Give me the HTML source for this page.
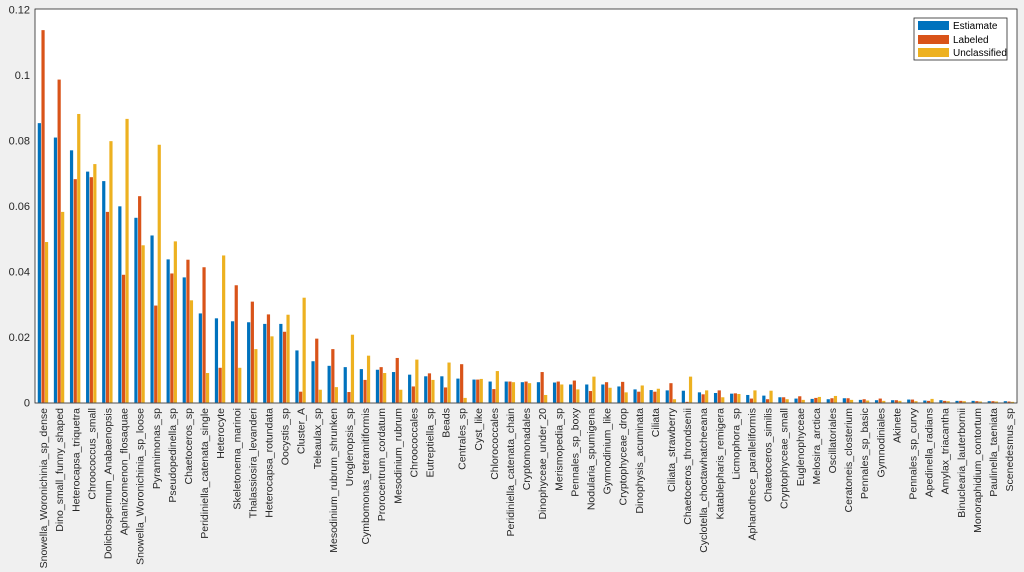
<!DOCTYPE html>
<html><head><meta charset="utf-8"><style>
html,body{margin:0;padding:0;background:#f0f0f0;}
svg{display:block;font-family:"Liberation Sans",Arial,sans-serif;}
</style></head><body>
<svg id="chart" width="1024" height="572" xmlns="http://www.w3.org/2000/svg">
<rect x="35" y="9" width="982" height="394" fill="#ffffff"/>
<g id="bars"></g>
<g id="yticks"></g>
<g id="xlabels"></g>
<rect x="35" y="9" width="982" height="394" fill="none" stroke="#262626" stroke-width="0.8"/>
<g>
<rect x="914" y="18" width="93" height="42" fill="#fff" stroke="#262626" stroke-width="0.8"/>
<rect x="918" y="21" width="31" height="9" fill="#0072bd"/>
<text x="953" y="29" font-size="10" fill="#000">Estiamate</text>
<rect x="918" y="35" width="31" height="9" fill="#d95319"/>
<text x="953" y="43" font-size="10" fill="#000">Labeled</text>
<rect x="918" y="48" width="31" height="9" fill="#edb120"/>
<text x="953" y="56" font-size="10" fill="#000">Unclassified</text>
</g>
</svg>
<script>
const categories=["Snowella_Woronichinia_sp_dense","Dino_small_funny_shaped","Heterocapsa_triquetra","Chroococcus_small","Dolichospermum_Anabaenopsis","Aphanizomenon_flosaquae","Snowella_Woronichinia_sp_loose","Pyramimonas_sp","Pseudopedinella_sp","Chaetoceros_sp","Peridiniella_catenata_single","Heterocyte","Skeletonema_marinoi","Thalassiosira_levanderi","Heterocapsa_rotundata","Oocystis_sp","Cluster_A","Teleaulax_sp","Mesodinium_rubrum_shrunken","Uroglenopsis_sp","Cymbomonas_tetramitiformis","Prorocentrum_cordatum","Mesodinium_rubrum","Chroococcales","Eutreptiella_sp","Beads","Centrales_sp","Cyst_like","Chlorococcales","Peridiniella_catenata_chain","Cryptomonadales","Dinophyceae_under_20","Merismopedia_sp","Pennales_sp_boxy","Nodularia_spumigena","Gymnodinium_like","Cryptophyceae_drop","Dinophysis_acuminata","Ciliata","Ciliata_strawberry","Chaetoceros_throndsenii","Cyclotella_choctawhatcheeana","Katablepharis_remigera","Licmophora_sp","Aphanothece_paralleliformis","Chaetoceros_similis","Cryptophyceae_small","Euglenophyceae","Melosira_arctica","Oscillatoriales","Ceratoneis_closterium","Pennales_sp_basic","Gymnodiniales","Akinete","Pennales_sp_curvy","Apedinella_radians","Amylax_triacantha","Binuclearia_lauterbornii","Monoraphidium_contortum","Paulinella_taeniata","Scenedesmus_sp"];
const estimate=[0.0853,0.0809,0.077,0.0705,0.0676,0.0599,0.0564,0.051,0.0437,0.0382,0.0272,0.0257,0.0248,0.0245,0.024,0.024,0.0159,0.0126,0.0112,0.0108,0.0102,0.01,0.0093,0.0085,0.008,0.008,0.0073,0.007,0.0064,0.0064,0.0062,0.0062,0.0061,0.0055,0.0055,0.0055,0.0049,0.004,0.0038,0.0037,0.0036,0.0031,0.0029,0.0027,0.0023,0.0021,0.0016,0.0012,0.0011,0.001,0.0013,0.0008,0.0007,0.0007,0.0009,0.0006,0.0007,0.0005,0.0005,0.0004,0.0004];
const labeled=[0.1137,0.0986,0.0682,0.0688,0.0582,0.039,0.063,0.0296,0.0394,0.0436,0.0413,0.0106,0.0358,0.0308,0.0269,0.0216,0.0033,0.0195,0.0163,0.0032,0.0069,0.0108,0.0136,0.0049,0.0089,0.0046,0.0117,0.007,0.0041,0.0064,0.0064,0.0093,0.0064,0.0067,0.0035,0.0062,0.0063,0.0033,0.0033,0.0059,0.0002,0.0025,0.0037,0.0028,0.0012,0.001,0.0016,0.0019,0.0014,0.0013,0.0013,0.001,0.0012,0.0007,0.0009,0.0005,0.0005,0.0005,0.0004,0.0004,0.0003];
const unclassified=[0.049,0.0582,0.0881,0.0728,0.0798,0.0866,0.048,0.0787,0.0492,0.0312,0.009,0.0449,0.0106,0.0163,0.0202,0.0268,0.032,0.0039,0.0047,0.0207,0.0143,0.009,0.0039,0.0131,0.0069,0.0122,0.0014,0.0072,0.0096,0.0062,0.0059,0.0023,0.0055,0.004,0.0079,0.0045,0.0031,0.0052,0.0042,0.001,0.0079,0.0037,0.0016,0.0026,0.0037,0.0036,0.001,0.0008,0.0017,0.002,0.0008,0.0006,0.0005,0.0005,0.0004,0.0011,0.0004,0.0004,0.0003,0.0003,0.0002];
const yTicks=[0,0.02,0.04,0.06,0.08,0.1,0.12];
const yTickLabels=["0","0.02","0.04","0.06","0.08","0.1","0.12"];
const series=[{vals:estimate,color:"#0072bd",off:-3.7,name:"estimate"},{vals:labeled,color:"#d95319",off:0,name:"labeled"},{vals:unclassified,color:"#edb120",off:3.5,name:"unclassified"}];
const NS="http://www.w3.org/2000/svg";
const x0=36,slot=16.1,yBase=402.5,yTop=9.5,yMax=0.12;
function xScale(i){return x0+(i+0.5)*slot-1;}
function yScale(v){return yBase-(v/yMax)*(yBase-yTop);}
const bars=document.getElementById('bars');
series.forEach(s=>{
  s.vals.forEach((v,i)=>{
    const r=document.createElementNS(NS,'rect');
    
    
    const y=yScale(v);
    r.setAttribute('x',xScale(i)+s.off-1.6);
    r.setAttribute('y',y);
    r.setAttribute('width',3.2);
    r.setAttribute('height',Math.max(0,yBase-y));
    r.setAttribute('fill',s.color);
    bars.appendChild(r);
  });
});
const yt=document.getElementById('yticks');
yTicks.forEach((t,k)=>{
  const tx=document.createElementNS(NS,'text');
  
  
  tx.setAttribute('x',30);tx.setAttribute('y',yScale(t)+4);
  tx.setAttribute('text-anchor','end');tx.setAttribute('font-size','11');tx.setAttribute('fill','#262626');
  tx.textContent=yTickLabels[k];yt.appendChild(tx);
});
const xl=document.getElementById('xlabels');
categories.forEach((c,i)=>{
  const tx=document.createElementNS(NS,'text');
  
  
  const x=xScale(i)+4,y=408;
  tx.setAttribute('x',x);tx.setAttribute('y',y);
  tx.setAttribute('transform','rotate(-90 '+x+' '+y+')');
  tx.setAttribute('text-anchor','end');tx.setAttribute('font-size','10.5');tx.setAttribute('fill','#262626');
  tx.textContent=c;xl.appendChild(tx);
});
</script>
</body></html>
